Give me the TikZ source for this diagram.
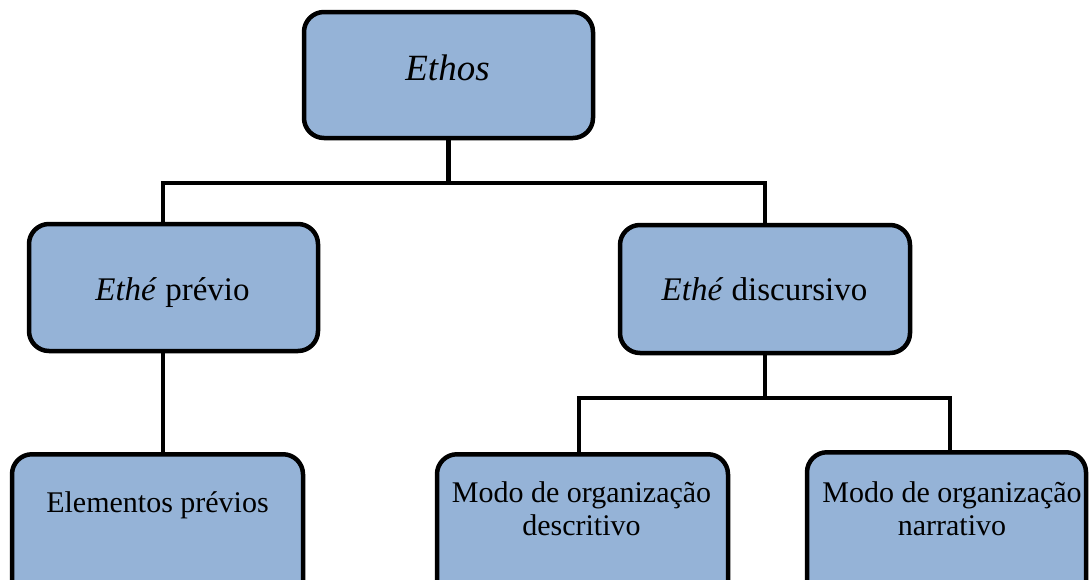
\documentclass[tikz,border=0pt]{standalone}
\usepackage{fontspec}
\setmainfont{Liberation Serif}
\definecolor{boxblue}{HTML}{95B3D7}
\begin{document}
\begin{tikzpicture}[x=1pt,y=-1pt,
  box/.style={draw=black, line width=4.5pt, fill=boxblue, rounded corners=20pt, inner sep=0pt},
  lbl/.style={inner sep=0pt, align=center, text=black},
  conn/.style={draw=black, line width=4.5pt}]
\useasboundingbox (0,0) rectangle (1089,579);
% boxes
\node[box, minimum width=289pt, minimum height=126pt] (ethos) at (448.5,75) {};
\node[box, minimum width=289pt, minimum height=127pt] (prev) at (173.5,287.5) {};
\node[box, minimum width=290pt, minimum height=128pt] (disc) at (765,289) {};
\node[box, minimum width=291pt, minimum height=170pt, anchor=north] (elem) at (157.5,452) {};
\node[box, minimum width=291pt, minimum height=170pt, anchor=north] (desc) at (582.5,452) {};
\node[box, minimum width=279pt, minimum height=170pt, anchor=north] (narr) at (946.5,450) {};
% labels
\node[lbl, anchor=base, font=\fontsize{37}{42}\selectfont\itshape] (tethos) at (447.5,80) {Ethos};
\node[lbl, anchor=base, font=\fontsize{33}{38}\selectfont] (tprev) at (172.5,300) {\textit{Eth\'e} pr\'evio};
\node[lbl, anchor=base, font=\fontsize{33}{38}\selectfont] (tdisc) at (764.5,300) {\textit{Eth\'e} discursivo};
\node[lbl, anchor=base, font=\fontsize{30}{33}\selectfont] (telem) at (157.5,512) {Elementos pr\'evios};
\node[lbl, anchor=base, font=\fontsize{30}{33}\selectfont] (tdesc) at (581.5,535) {Modo de organiza\c{c}\~ao\\descritivo};
\node[lbl, anchor=base, font=\fontsize{30}{33}\selectfont] (tnarr) at (952,535) {Modo de organiza\c{c}\~ao\\narrativo};
% bus coordinates
\coordinate (bL) at (163,183);
\coordinate (bR) at (765,183);
\coordinate (cL) at (579,398);
\coordinate (cR) at (950,398);
% connectors
\draw[conn] (ethos.south) -- (ethos.south |- bL);
\draw[conn] ([xshift=-2.25pt]bL) -- ([xshift=2.25pt]bR);
\draw[conn] (bL) -- (bL |- prev.north);
\draw[conn] (bR) -- (bR |- disc.north);
\draw[conn] (bL |- prev.south) -- (bL |- elem.north);
\draw[conn] (disc.south) -- (disc.south |- cL);
\draw[conn] ([xshift=-2.25pt]cL) -- ([xshift=2.25pt]cR);
\draw[conn] (cL) -- (cL |- desc.north);
\draw[conn] (cR) -- (cR |- narr.north);
\end{tikzpicture}
\end{document}
